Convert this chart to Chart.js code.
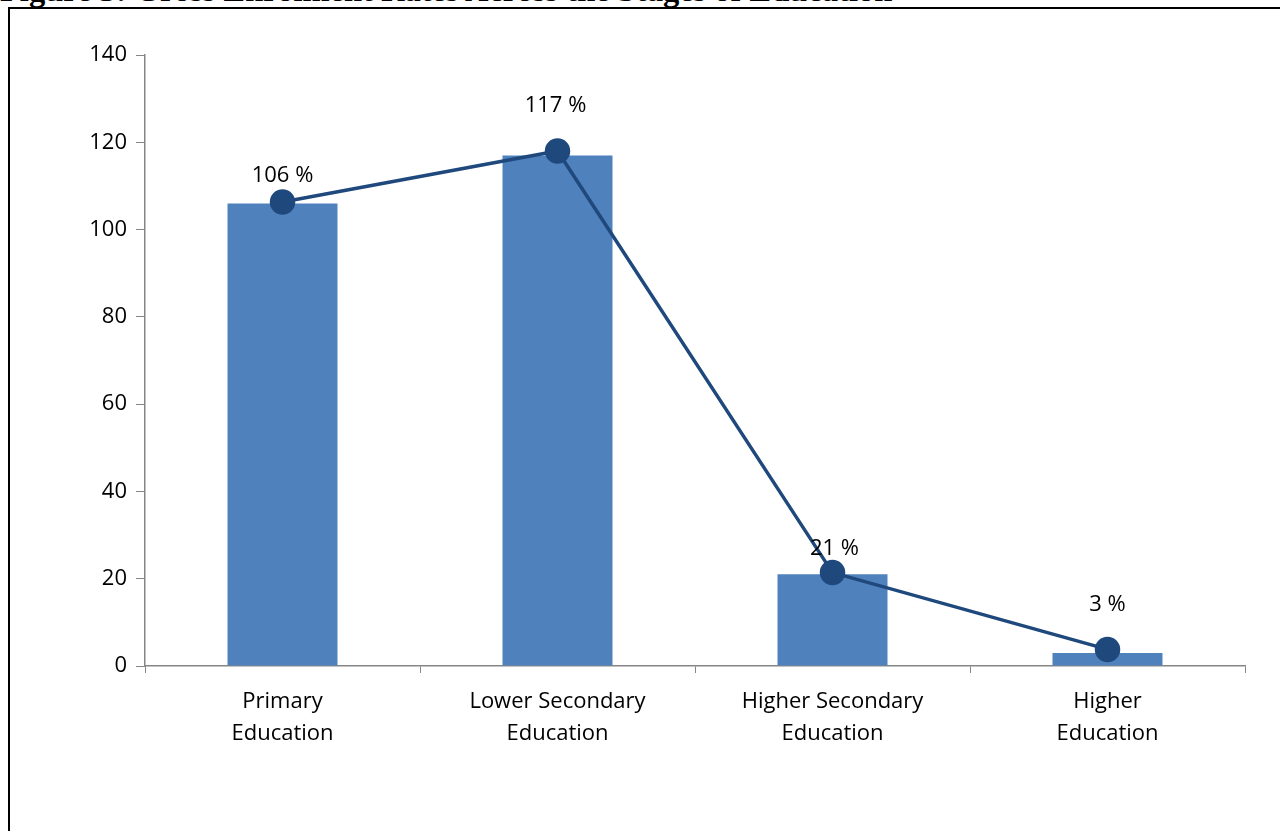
<!DOCTYPE html>
<html lang="en">
<head>
<meta charset="UTF-8">
<title>Gross Enrolment Rates</title>
<style>
body { margin:0; padding:0; background:#fff; overflow:hidden; width:1280px; height:831px; position:relative; }
#title { position:absolute; left:0; top:-26px; font-family:"Liberation Serif", serif; font-style:normal; font-weight:bold; font-size:32.5px; line-height:32px; white-space:nowrap; color:#000; }
#frame { position:absolute; left:8px; top:7px; width:1300px; height:900px; border:2px solid #000; box-sizing:border-box; }
#wrap { position:absolute; left:0; top:0; width:1280px; height:831px; }
</style>
</head>
<body>
<div id="title">Figure 3: Gross Enrolment Rates Across the Stages of Education</div>
<div id="frame"></div>
<div id="wrap"><canvas id="chart"></canvas></div>

<script src="https://cdn.jsdelivr.net/npm/chart.js"></script>
<script>
// data
const categories = [['Primary', 'Education'], ['Lower Secondary', 'Education'], ['Higher Secondary', 'Education'], ['Higher', 'Education']];
const barValues = [106, 117, 21, 3];
const lineValues = [106.3, 118, 21.4, 3.8];
const pointLabels = ['106 %', '117 %', '21 %', '3 %'];
const yTicks = [0, 20, 40, 60, 80, 100, 120, 140];

const FONT = '"Open Sans", Lato, sans-serif';

// percent labels above the line points
const labelPlugin = {
  id: 'pctLabels',
  afterDatasetsDraw(chart, args, opts) {
    const ctx = chart.ctx;
    const meta = chart.getDatasetMeta(0);
    ctx.save();
    ctx.font = '22px ' + FONT;
    ctx.fillStyle = '#000';
    ctx.textAlign = 'center';
    ctx.textBaseline = 'middle';
    meta.data.forEach((pt, i) => {
      ctx.fillText(pointLabels[i], pt.x + opts.dx[i], pt.y - opts.rise[i]);
    });
    ctx.restore();
  }
};

new Chart(document.getElementById('chart'), {
  data: {
    labels: categories,
    datasets: [
      { type:'line', label:'Rate', data:lineValues, borderColor:'#1F497D', backgroundColor:'#1F497D',
        borderWidth:3.5, pointRadius:11, pointHoverRadius:11, pointBackgroundColor:'#1F497D', tension:0, order:0 },
      { type:'bar', label:'GER', data:barValues, backgroundColor:'#4F81BD',
        barPercentage:0.4, categoryPercentage:1, order:1 }
    ]
  },
  options: {
    responsive:true, maintainAspectRatio:false, animation:false,
    layout: { padding: { left:0, top:55, right:35, bottom:65 } },
    plugins: {
      legend: { display:false }, tooltip: { enabled:false }, title: { display:false },
      pctLabels: { dx:[0, -2, 2, 0], rise:[26, 45, 24, 45] }
    },
    scales: {
      x: {
        offset:true,
        grid: { offset:true, drawOnChartArea:false, color:'#868686', tickLength:7, tickColor:'#868686' },
        border: { color:'#868686', width:1.5 },
        ticks: { font:{ family:FONT, size:22, lineHeight:1.45 }, color:'#000', padding:13, maxRotation:0 },
        afterFit(s) { s.height = 100; }
      },
      y: {
        min:0, max:140,
        afterBuildTicks(s) { s.ticks = yTicks.map(v => ({ value:v })); },
        grid: { drawOnChartArea:false, color:'#868686', tickLength:9, tickColor:'#868686' },
        border: { color:'#868686', width:1.5 },
        ticks: { font:{ family:FONT, size:22 }, color:'#000', padding:9 },
        afterFit(s) { s.width = 145; }
      }
    }
  },
  plugins: [labelPlugin]
});
</script>
</body>
</html>
